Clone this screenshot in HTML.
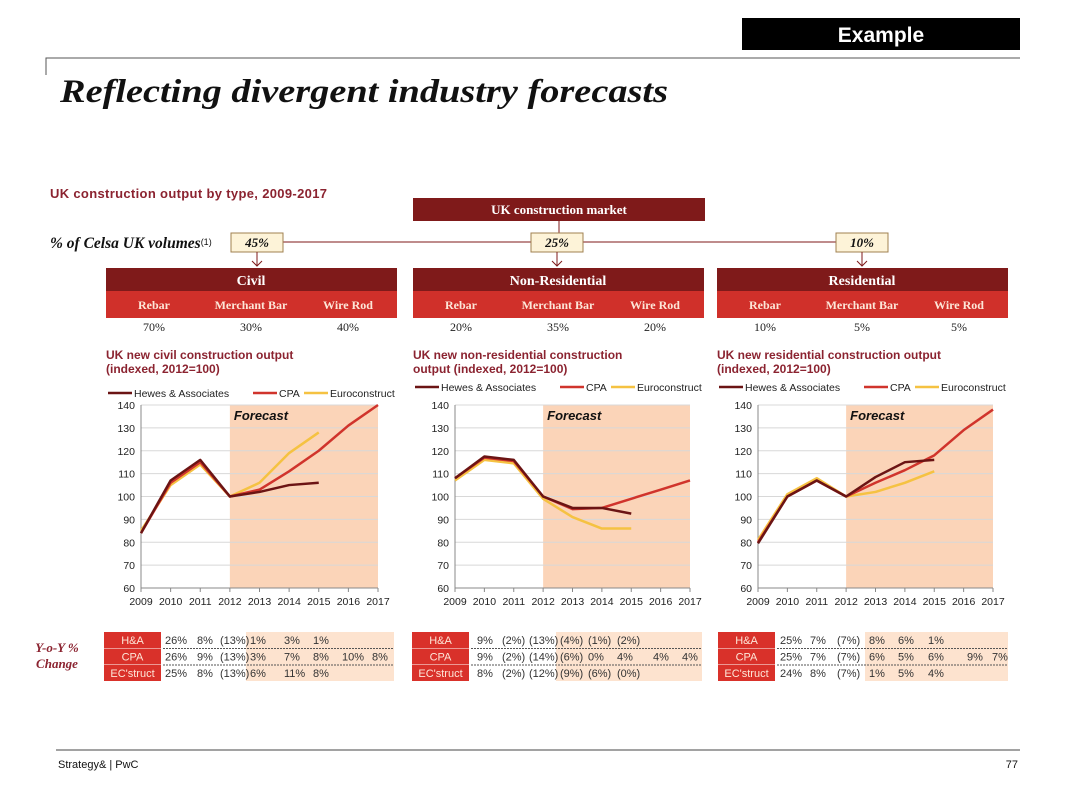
<!DOCTYPE html>
<html><head><meta charset="utf-8"><style>
body{margin:0;background:#fff;}
svg{display:block;font-family:"Liberation Sans",sans-serif;}
.serif{font-family:"Liberation Serif",serif;}
</style></head><body>
<svg id="s" width="1080" height="810" viewBox="0 0 1080 810" xmlns="http://www.w3.org/2000/svg">
<rect x="742" y="18" width="278" height="32" fill="#000"/>
<text x="881" y="42" text-anchor="middle" fill="#fff" font-size="21" font-weight="bold">Example</text>
<path d="M46 75V58H1020" stroke="#555" fill="none" stroke-width="1"/>
<text class="serif" x="60" y="102" font-size="33" font-weight="bold" font-style="italic" fill="#111" textLength="608" lengthAdjust="spacingAndGlyphs">Reflecting divergent industry forecasts</text>
<text x="50" y="198" font-size="13" font-weight="bold" fill="#8b2330" textLength="277">UK construction output by type, 2009-2017</text>
<rect x="413" y="198" width="292" height="23" fill="#7f1a1a"/>
<text class="serif" x="559" y="214" text-anchor="middle" font-size="13" font-weight="bold" fill="#fff">UK construction market</text>
<path d="M559 221V242M283 242H836" stroke="#7f1a1a" stroke-width="1"/>
<text class="serif" x="50" y="248" font-size="15.5" font-weight="bold" font-style="italic" fill="#111">% of Celsa UK volumes<tspan font-size="9" font-style="normal" font-weight="normal" dy="-3" font-family="Liberation Sans">(1)</tspan></text>
<g id="topg"></g>
<g id="charts"></g>
<text class="serif" x="57" y="652" text-anchor="middle" font-size="13" font-weight="bold" font-style="italic" fill="#8b2330">Y-o-Y %</text>
<text class="serif" x="57" y="668" text-anchor="middle" font-size="13" font-weight="bold" font-style="italic" fill="#8b2330">Change</text>
<line x1="56" y1="750" x2="1020" y2="750" stroke="#444"/>
<text x="58" y="768" font-size="11" fill="#111">Strategy&amp; | PwC</text>
<text x="1018" y="768" text-anchor="end" font-size="11" fill="#111">77</text>
</svg>
<script>
const years=["2009","2010","2011","2012","2013","2014","2015","2016","2017"];
const yTicks=[60,70,80,90,100,110,120,130,140];
const panelNames=["Civil","Non-Residential","Residential"];
const shares=["45%","25%","10%"];
const productShares=[["70%","30%","40%"],["20%","35%","20%"],["10%","5%","5%"]];
const chartTitles=[["UK new civil  construction output","(indexed, 2012=100)"],["UK new non-residential  construction","output (indexed, 2012=100)"],["UK new residential  construction output","(indexed, 2012=100)"]];
const haCivil=[84,107,116,100,102,105,106];
const cpaCivil=[84,106,115,100,103,111,120,131,140];
const ecCivil=[85,105,114,100,106,119,128];
const haNonRes=[108,117.5,116,100,95,95,92.5];
const cpaNonRes=[108,117,115.5,100,94.5,95,99,103,107];
const ecNonRes=[107,116,114.5,99,91,86,86];
const haRes=[79.5,100,107,100,108.5,115,116];
const cpaRes=[80,100,107,100,106,111.5,118,129,138];
const ecRes=[81,101,108,100,102,106,111];
const yoyCivil=[["26%","8%","(13%)","1%","3%","1%"],["26%","9%","(13%)","3%","7%","8%","10%","8%"],["25%","8%","(13%)","6%","11%","8%"]];
const yoyNonRes=[["9%","(2%)","(13%)","(4%)","(1%)","(2%)"],["9%","(2%)","(14%)","(6%)","0%","4%","4%","4%"],["8%","(2%)","(12%)","(9%)","(6%)","(0%)"]];
const yoyRes=[["25%","7%","(7%)","8%","6%","1%"],["25%","7%","(7%)","6%","5%","6%","9%","7%"],["24%","8%","(7%)","1%","5%","4%"]];

(function(){
const NS="http://www.w3.org/2000/svg";
function mk(p,tag,a,txt){const e=document.createElementNS(NS,tag);for(const k in a)e.setAttribute(k,a[k]);if(txt!==undefined)e.textContent=txt;p.appendChild(e);return e;}
const topG=document.getElementById('topg'),charts=document.getElementById('charts');
const panelX=[106,413,717],boxX=[231,531,836];
const series=[[haCivil,cpaCivil,ecCivil],[haNonRes,cpaNonRes,ecNonRes],[haRes,cpaRes,ecRes]];
const yoys=[yoyCivil,yoyNonRes,yoyRes];
const plotX0=[141,455,758],plotX1=[378,690,993];
const colors=["#6b1414","#d0342c","#f5c242"];
const legendNames=["Hewes  & Associates","CPA","Euroconstruct"];
const rowLabels=["H&A","CPA","EC'struct"];
const tableX=[104,412,718];
const colOffs=[[61,93,116,146,180,209,238,268],[65,90,117,148,176,205,241,270],[62,92,119,151,180,210,249,274]];
for(let p=0;p<3;p++){
  const px=panelX[p];
  let e=mk(topG,'rect',{x:boxX[p],y:233,width:52,height:19,fill:'#fdf3d8',stroke:'#a08050'});
  
  e=mk(topG,'text',{x:boxX[p]+26,y:247,'text-anchor':'middle','font-size':13,'font-weight':'bold','font-style':'italic','font-family':'Liberation Serif,serif',fill:'#111'},shares[p]);
  
  e=mk(topG,'path',{d:`M${boxX[p]+26} 252V266M${boxX[p]+21} 261L${boxX[p]+26} 266L${boxX[p]+31} 261`,stroke:'#7f1a1a',fill:'none'});
  
  e=mk(topG,'rect',{x:px,y:268,width:291,height:23,fill:'#7f1a1a'});
  
  e=mk(topG,'text',{x:px+145,y:285,'text-anchor':'middle','font-size':14,'font-weight':'bold','font-family':'Liberation Serif,serif',fill:'#fff'},panelNames[p]);
  
  e=mk(topG,'rect',{x:px,y:291,width:291,height:27,fill:'#d0302a'});
  
  const prods=["Rebar","Merchant Bar","Wire Rod"],pcx=[px+48,px+145,px+242];
  for(let i=0;i<3;i++){
    e=mk(topG,'text',{x:pcx[i],y:309,'text-anchor':'middle','font-size':12,'font-weight':'bold','font-family':'Liberation Serif,serif',fill:'#fde6d8'},prods[i]);
    
    e=mk(topG,'text',{x:pcx[i],y:331,'text-anchor':'middle','font-size':12,'font-family':'Liberation Serif,serif',fill:'#222'},productShares[p][i]);
    
  }
  for(let i=0;i<2;i++){
    e=mk(topG,'text',{x:px,y:359+i*14,'font-size':12,'font-weight':'bold',fill:'#8b2330'},chartTitles[p][i]);
    
  }
  const g=mk(charts,'g',{});
  
  const x0=plotX0[p],x1=plotX1[p],yT=405,yB=588;
  const X=i=>x0+(x1-x0)*i/(years.length-1);
  const Y=v=>yB-(v-yTicks[0])/(yTicks[yTicks.length-1]-yTicks[0])*(yB-yT);
  e=mk(g,'rect',{x:X(3),y:yT,width:X(8)-X(3),height:yB-yT,fill:'#fbd4b8'});
  
  e=mk(g,'text',{x:X(3)+4,y:yT+15,'font-size':13,'font-weight':'bold','font-style':'italic',fill:'#111'},'Forecast');
  
  yTicks.forEach(v=>{
    if(v>yTicks[0]){e=mk(g,'line',{x1:x0,x2:x1,y1:Y(v),y2:Y(v),stroke:'#d8d8d8'});}
    e=mk(g,'text',{x:x0-6,y:Y(v)+4,'text-anchor':'end','font-size':10.5,fill:'#222'},String(v));
    
  });
  e=mk(g,'path',{d:`M${x0} ${yT}V${yB}H${x1}`,stroke:'#888',fill:'none'});
  
  years.forEach((yr,i)=>{
    e=mk(g,'line',{x1:X(i),x2:X(i),y1:yB,y2:yB+4,stroke:'#888'});
    
    e=mk(g,'text',{x:X(i),y:yB+17,'text-anchor':'middle','font-size':10.5,fill:'#222'},yr);
    
  });
  [2,1,0].forEach(s=>{
    const d=series[p][s].map((v,i)=>(i?'L':'M')+X(i)+' '+Y(v)).join('');
    e=mk(g,'path',{d,stroke:colors[s],'stroke-width':2.5,fill:'none','stroke-linejoin':'round'});
    
  });
  const ly=p===0?393:387;const lx=[px+2,px+147,px+198];
  for(let s=0;s<3;s++){
    const lg=mk(g,'g',{});
    
    mk(lg,'line',{x1:lx[s],x2:lx[s]+24,y1:ly,y2:ly,stroke:colors[s],'stroke-width':2.5});
    mk(lg,'text',{x:lx[s]+26,y:ly+4,'font-size':10.5,fill:'#222'},legendNames[s]);
  }
  const tx=tableX[p],co=colOffs[p];
  const tg=mk(charts,'g',{});
  
  mk(tg,'rect',{x:tx+co[3]-4,y:632,width:290-co[3]+4,height:49,fill:'#fde3cf'});
  for(let r=0;r<3;r++){
    const ry=632+r*16.5;
    e=mk(tg,'rect',{x:tx,y:ry,width:57,height:16,fill:'#d9312a'});
    
    e=mk(tg,'text',{x:tx+28.5,y:ry+12,'text-anchor':'middle','font-size':11,fill:'#fde6d8'},rowLabels[r]);
    
    if(r<2){mk(tg,'line',{x1:tx+59,x2:tx+290,y1:ry+16.5,y2:ry+16.5,stroke:'#555','stroke-dasharray':'2,1'});}
    yoys[p][r].forEach((v,c)=>{
      e=mk(tg,'text',{x:tx+co[c],y:ry+12,'font-size':11,fill:'#333'},v);
      
    });
  }
}
})();
</script>
</body></html>
